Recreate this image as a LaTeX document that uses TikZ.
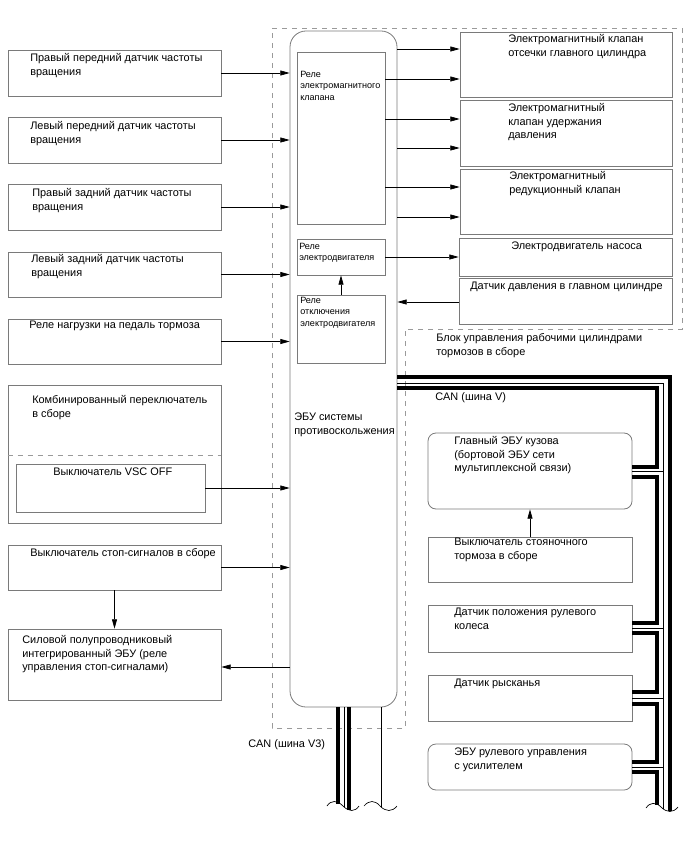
\documentclass[tikz,border=0pt]{standalone}
\usepackage{fontspec}
\setmainfont{Liberation Sans}
\usetikzlibrary{arrows.meta,fit}
\definecolor{boxgray}{HTML}{7A7A7A}
\definecolor{dashgray}{HTML}{9A9A9A}

\begin{document}
\begin{tikzpicture}[x=0.75pt, y=-0.75pt,
    box/.style={draw=boxgray, line width=0.6pt, inner sep=0pt},
    rbox/.style={box, rounded corners=6pt},
    txt/.style={anchor=north west, inner sep=0pt, align=left, font=\fontsize{8.2}{10.3}\selectfont},
    small/.style={anchor=north west, inner sep=0pt, align=left, font=\fontsize{6.8}{8.6}\selectfont},
    arr/.style={-{Triangle[length=7pt,width=3.8pt]}, line width=0.5pt},
    link/.style={line width=0.5pt},
    can/.style={line width=3pt, line join=miter},
    blockline/.style={draw=dashgray, line width=0.6pt, dash pattern=on 4pt off 3.5pt}]
    \useasboundingbox (0,0) rectangle (688,852);

    \draw[blockline] (272,28) -- (682,28) -- (682,329) -- (405,329) -- (405,728) -- (272,728) -- cycle;

    \node[box, fit={(8,50) (221,96)}] (rfs) {};
    \node[txt] (rfst) at (30,53) {Правый передний датчик частоты\\вращения};
    \node[box, fit={(8,117) (221,163)}] (lfs) {};
    \node[txt] (lfst) at (30,121) {Левый передний датчик частоты\\вращения};
    \node[box, fit={(8,184) (221,230)}] (rrs) {};
    \node[txt] (rrst) at (32,188) {Правый задний датчик частоты\\вращения};
    \node[box, fit={(8,252) (221,297)}] (lrs) {};
    \node[txt] (lrst) at (31,254) {Левый задний датчик частоты\\вращения};
    \node[box, fit={(8,319) (221,364)}] (pedal) {};
    \node[txt] (pedalt) at (29,321) {Реле нагрузки на педаль тормоза};
    \node[box, fit={(8,385) (221,523)}] (comb) {};
    \node[txt] (combt) at (32,395) {Комбинированный переключатель\\в сборе};
    \draw[blockline] (comb.west |- 0,455) -- (comb.east |- 0,455);
    \node[box, fit={(16,464) (205,512)}] (vsc) {};
    \node[txt] (vsct) at (53,468) {Выключатель VSC OFF};
    \node[box, fit={(8,545) (221,590)}] (stopsw) {};
    \node[txt] (stopswt) at (30,548) {Выключатель стоп-сигналов в сборе};
    \node[box, fit={(8,629) (221,700)}] (sic) {};
    \node[txt] (sict) at (22,635) {Силовой полупроводниковый\\интегрированный ЭБУ (реле\\управления стоп-сигналами)};

    \node[box, rounded corners=12pt, fit={(290,31) (397,707)}] (ecu) {};
    \node[txt] (ecut) at (294,413) {ЭБУ системы\\противоскольжения};
    \node[box, fit={(297,52) (385,224)}] (rvalve) {};
    \node[small] (rvalvet) at (300,71) {Реле\\электромагнитного\\клапана};
    \node[box, fit={(297,239) (385,275)}] (rmotor) {};
    \node[small] (rmotort) at (299,243) {Реле\\электродвигателя};
    \node[box, fit={(297,295) (385,363)}] (rcut) {};
    \node[small] (rcutt) at (300,297) {Реле\\отключения\\электродвигателя};

    \node[box, fit={(460,32) (672,97)}] (svcut) {};
    \node[txt] (svcutt) at (508,34) {Электромагнитный клапан\\отсечки главного цилиндра};
    \node[box, fit={(460,100) (672,166)}] (svhold) {};
    \node[txt] (svholdt) at (508,103) {Электромагнитный\\клапан удержания\\давления};
    \node[box, fit={(460,169) (672,234)}] (svred) {};
    \node[txt] (svredt) at (509,171) {Электромагнитный\\редукционный клапан};
    \node[box, fit={(459,238) (672,276)}] (pump) {};
    \node[txt] (pumpt) at (511,242) {Электродвигатель насоса};
    \node[box, fit={(459,278) (672,324)}] (mcs) {};
    \node[txt] (mcst) at (470,282) {Датчик давления в главном цилиндре};
    \node[txt] (blockt) at (436,333) {Блок управления рабочими цилиндрами\\тормозов в сборе};

    \node[txt] (cant) at (435,392) {CAN (шина V)};
    \node[rbox, fit={(428,433) (632,509)}] (body) {};
    \node[txt] (bodyt) at (454,436) {Главный ЭБУ кузова\\(бортовой ЭБУ сети\\мультиплексной связи)};
    \node[box, fit={(428,537) (632,582)}] (pbrake) {};
    \node[txt] (pbraket) at (454,538) {Выключатель стояночного\\тормоза в сборе};
    \node[box, fit={(428,605) (632,652)}] (steer) {};
    \node[txt] (steert) at (454,608) {Датчик положения рулевого\\колеса};
    \node[box, fit={(428,675) (632,721)}] (yaw) {};
    \node[txt] (yawt) at (454,679) {Датчик рысканья};
    \node[rbox, fit={(428,744) (632,790)}] (eps) {};
    \node[txt] (epst) at (454,748) {ЭБУ рулевого управления\\с усилителем};
    \node[txt] (canthreet) at (248,739) {CAN (шина V3)};

    \foreach \n in {rfs,lfs,rrs,lrs,pedal,vsc,stopsw}
      \draw[arr] (\n.east) -- (\n.east -| ecu.west);
    \draw[arr] (stopsw.south) -- (sic.north);
    \draw[arr] (ecu.west |- 0,667) -- (sic.east |- 0,667);

    \draw[arr] (ecu.east |- 0,49) -- (svcut.west |- 0,49);
    \draw[arr] (rvalve.east |- 0,79) -- (svcut.west |- 0,79);
    \draw[arr] (rvalve.east |- 0,119) -- (svhold.west |- 0,119);
    \draw[arr] (ecu.east |- 0,148) -- (svhold.west |- 0,148);
    \draw[arr] (rvalve.east |- 0,187) -- (svred.west |- 0,187);
    \draw[arr] (ecu.east |- 0,217) -- (svred.west |- 0,217);
    \draw[arr] (rmotor.east |- 0,257) -- (pump.west |- 0,257);
    \draw[arr] (mcs.west |- 0,302) -- (ecu.east |- 0,302);
    \draw[arr] (rcut.north) -- (rmotor.south);
    \draw[arr] (pbrake.north) -- (body.south);

    \coordinate (vout) at (670,811);
    \coordinate (vmid) at (663,809);
    \coordinate (vin) at (657,805);
    \draw[can] (ecu.east |- 0,377) -| (vout);
    \draw[link] (ecu.east |- 0,383) -| (vmid);
    \draw[can] (ecu.east |- 0,388) -- (657,388) -- (657,467) -- (body.east |- 0,467);
    \draw[can] (body.east |- 0,477) -- (657,477) -- (657,623) -- (steer.east |- 0,623);
    \draw[can] (steer.east |- 0,633) -- (657,633) -- (657,692) -- (yaw.east |- 0,692);
    \draw[can] (yaw.east |- 0,704) -- (657,704) -- (657,762) -- (eps.east |- 0,762);
    \draw[can] (eps.east |- 0,772) -- (657,772) -- (vin);
    \foreach \n/\y in {body/471.5,steer/628,yaw/698,eps/767}
      \draw[link] (\n.east |- 0,\y) -- (663,\y);
    \draw[link] (646,808) .. controls (650,802) and (656,802) .. (661,807) .. controls (667,813) and (673,813) .. (678,807);

    \coordinate (vtl) at (338,804);
    \coordinate (vtm) at (344,807);
    \coordinate (vtr) at (349,810);
    \coordinate (vtx) at (381,807);
    \draw[can] (ecu.south -| vtl) -- (vtl);
    \draw[link] (ecu.south -| vtm) -- (vtm);
    \draw[can] (ecu.south -| vtr) -- (vtr);
    \draw[link] (ecu.south -| vtx) -- (vtx);
    \draw[link] (327,806) .. controls (331,800) and (337,800) .. (343,806) .. controls (349,812) and (355,812) .. (359,806);
    \draw[link] (364,806) .. controls (369,800) and (375,800) .. (380,806) .. controls (386,812) and (392,812) .. (397,806);
  \end{tikzpicture}
\end{document}
